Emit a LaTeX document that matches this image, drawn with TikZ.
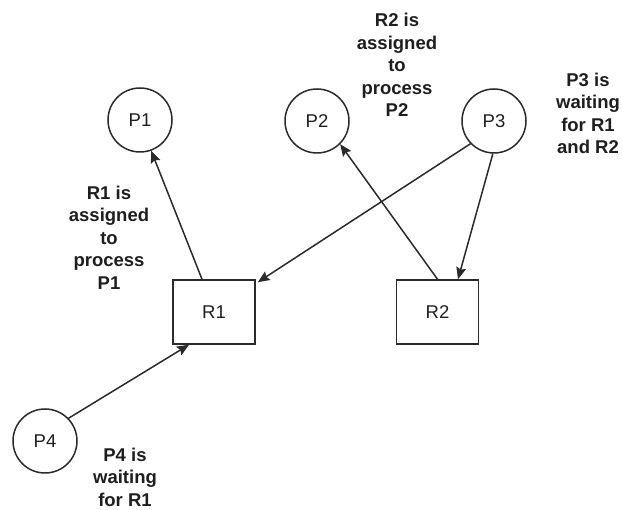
\documentclass[tikz,border=0pt]{standalone}
\usepackage{fontspec}
\setmainfont{Liberation Sans}
\usetikzlibrary{arrows.meta}
\definecolor{ink}{HTML}{1E1E1E}
\definecolor{stroke}{HTML}{2A2A2A}
\begin{document}
\begin{tikzpicture}[x=1pt,y=-1pt,
  proc/.style={circle,draw=stroke,line width=1.5pt,minimum size=64pt,inner sep=0pt,
    text=ink,font=\fontsize{18.5}{22}\selectfont},
  res/.style={rectangle,draw=stroke,line width=1.5pt,minimum width=82pt,minimum height=64pt,
    inner sep=0pt,text=ink,font=\fontsize{18.5}{22}\selectfont},
  note/.style={align=center,text=ink,inner sep=0pt,font=\fontsize{18.5}{22.5}\selectfont\bfseries},
  edge/.style={draw=stroke,line width=1.5pt,-{Stealth[length=12pt,width=10pt,inset=2pt]}}]
\useasboundingbox (0,0) rectangle (622,510);

% processes and resources
\node[proc] (p1) at (140,120) {P1};
\node[proc] (p2) at (317,121) {P2};
\node[proc] (p3) at (494,121) {P3};
\node[proc] (p4) at (45,441) {P4};
\node[res] (r1) at (214,312) {R1};
\node[res] (r2) at (437.5,312) {R2};

% attachment points on the resource boxes
\coordinate (r1top) at ([xshift=-12pt]r1.north);
\coordinate (r1corner) at ([xshift=2pt,yshift=-3pt]r1.north east);
\coordinate (r1bot) at ([xshift=-25pt]r1.south);
\coordinate (r2in) at ([xshift=20.5pt]r2.north);

% assignment and request edges
\draw[edge] (r1top) -- (p1.290);
\draw[edge] (r2.north) -- (p2.315);
\draw[edge] (p3.224) -- (r1corner);
\draw[edge] (p3.268) -- (r2in);
\draw[edge] (p4.44) -- (r1bot);

% annotations
\node[note] (n1) at (109,237.5) {\fontsize{18.5}{20}\selectfont R1 is\\assigned\\to\\process\\P1};
\node[note] (n2) at (397,65) {R2 is\\assigned\\to\\process\\P2};
\node[note] (n3) at (588,113.5) {P3 is\\waiting\\for R1\\and R2};
\node[note] (n4) at (125,477) {P4 is\\waiting\\for R1};
\end{tikzpicture}
\end{document}
